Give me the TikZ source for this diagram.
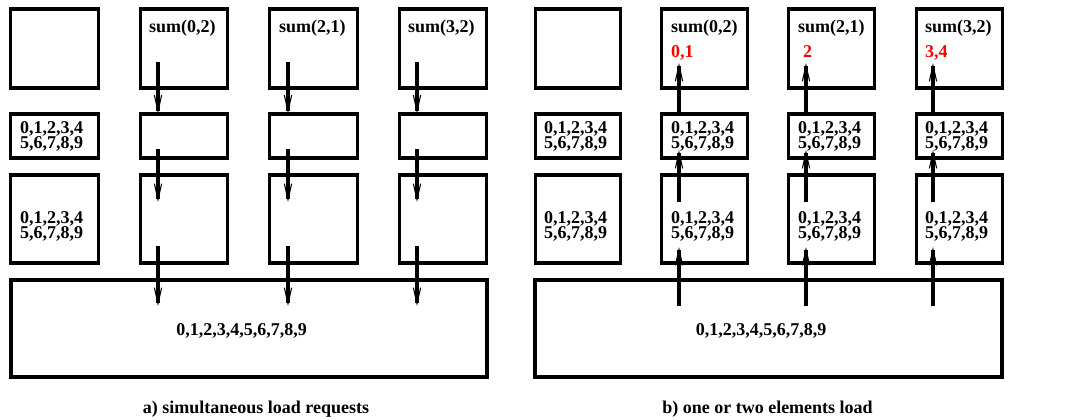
\documentclass[tikz,border=0pt]{standalone}
\usepackage{fontspec}
\setmainfont{Liberation Serif}
\usetikzlibrary{arrows.meta}
\begin{document}
\begin{tikzpicture}[x=0.75pt,y=-0.75pt,
  bx/.style 2 args={draw=black,line width=2.3pt,minimum width=#1*0.75pt,minimum height=#2*0.75pt,inner sep=0pt,outer sep=0pt},
  txt/.style={inner sep=0pt,outer sep=0pt,font=\bfseries\fontsize{13.5pt}{11.25pt}\selectfont},
  two/.style={txt,align=left,anchor=west},
  redtxt/.style={txt,text=red,anchor=base west},
  arr/.style={line width=2.3pt,-{Straight Barb[length=12pt,width=5.5pt,line width=0.8pt]}},
  captxt/.style={txt,anchor=base}]
\useasboundingbox (0,0) rectangle (1070,419);
% ---------- panel a ----------
\node[bx={87.5}{79}] (a11) at (54.5,48.5) {};
\node[bx={87.5}{79}] (a12) at (184,48.5) {};
\node[bx={87.5}{79}] (a13) at (313.5,48.5) {};
\node[bx={87.5}{79}] (a14) at (443,48.5) {};
\node[bx={87.5}{44}] (a21) at (54.5,136) {};
\node[bx={87.5}{44}] (a22) at (184,136) {};
\node[bx={87.5}{44}] (a23) at (313.5,136) {};
\node[bx={87.5}{44}] (a24) at (443,136) {};
\node[bx={87.5}{88}] (a31) at (54.5,219) {};
\node[bx={87.5}{88}] (a32) at (184,219) {};
\node[bx={87.5}{88}] (a33) at (313.5,219) {};
\node[bx={87.5}{88}] (a34) at (443,219) {};
\node[bx={476}{97}] (abig) at (249,328.5) {};
\node[txt,anchor=base west] (as1) at (149,32) {sum(0,2)};
\node[txt,anchor=base west] (as2) at (279,32) {sum(2,1)};
\node[txt,anchor=base west] (as3) at (408,32) {sum(3,2)};
\node[two] (ad2) at (20,136) {0,1,2,3,4\\5,6,7,8,9};
\node[two] (ad3) at (20,226) {0,1,2,3,4\\5,6,7,8,9};
\node[txt,anchor=base] (adbig) at (241.5,335) {0,1,2,3,4,5,6,7,8,9};
\node[captxt] (acap) at (256,413) {a) simultaneous load requests};
\foreach \c/\x in {2/158,3/288,4/417}{
  \coordinate (ap1\c) at (\x,62);
  \coordinate (ap2\c) at (\x,113.5);
  \coordinate (ap3\c) at (\x,149);
  \coordinate (ap4\c) at (\x,202);
  \coordinate (ap5\c) at (\x,246);
  \coordinate (ap6\c) at (\x,306);
  \draw[arr] (ap1\c) -- (ap2\c);
  \draw[arr] (ap3\c) -- (ap4\c);
  \draw[arr] (ap5\c) -- (ap6\c);
}
% ---------- panel b ----------
\node[bx={85.5}{79}] (b11) at (578,48.5) {};
\node[bx={85.5}{79}] (b12) at (704.5,48.5) {};
\node[bx={85.5}{79}] (b13) at (831.5,48.5) {};
\node[bx={85.5}{79}] (b14) at (959.5,48.5) {};
\node[bx={85.5}{44}] (b21) at (578,136) {};
\node[bx={85.5}{44}] (b22) at (704.5,136) {};
\node[bx={85.5}{44}] (b23) at (831.5,136) {};
\node[bx={85.5}{44}] (b24) at (959.5,136) {};
\node[bx={85.5}{88}] (b31) at (578,219) {};
\node[bx={85.5}{88}] (b32) at (704.5,219) {};
\node[bx={85.5}{88}] (b33) at (831.5,219) {};
\node[bx={85.5}{88}] (b34) at (959.5,219) {};
\node[bx={467}{97}] (bbig) at (768.5,328.5) {};
\node[txt,anchor=base west] (bs1) at (671,32) {sum(0,2)};
\node[txt,anchor=base west] (bs2) at (798,32) {sum(2,1)};
\node[txt,anchor=base west] (bs3) at (925,32) {sum(3,2)};
\node[redtxt] (br1) at (671,57) {0,1};
\node[redtxt] (br2) at (803,57) {2};
\node[redtxt] (br3) at (925,57) {3,4};
\node[two] (bd21) at (544,136) {0,1,2,3,4\\5,6,7,8,9};
\node[two] (bd22) at (671,136) {0,1,2,3,4\\5,6,7,8,9};
\node[two] (bd23) at (798,136) {0,1,2,3,4\\5,6,7,8,9};
\node[two] (bd24) at (925,136) {0,1,2,3,4\\5,6,7,8,9};
\node[two] (bd31) at (544,226) {0,1,2,3,4\\5,6,7,8,9};
\node[two] (bd32) at (671,226) {0,1,2,3,4\\5,6,7,8,9};
\node[two] (bd33) at (798,226) {0,1,2,3,4\\5,6,7,8,9};
\node[two] (bd34) at (925,226) {0,1,2,3,4\\5,6,7,8,9};
\node[txt,anchor=base] (bdbig) at (761,335) {0,1,2,3,4,5,6,7,8,9};
\node[captxt] (bcap) at (767.5,413) {b) one or two elements load};
\foreach \c/\x in {2/679,3/806,4/933}{
  \coordinate (bp1\c) at (\x,306);
  \coordinate (bp2\c) at (\x,247);
  \coordinate (bp3\c) at (\x,202);
  \coordinate (bp4\c) at (\x,150);
  \coordinate (bp5\c) at (\x,113);
  \coordinate (bp6\c) at (\x,63);
  \draw[arr] (bp1\c) -- (bp2\c);
  \draw[arr] (bp3\c) -- (bp4\c);
  \draw[arr] (bp5\c) -- (bp6\c);
}
\end{tikzpicture}
\end{document}
